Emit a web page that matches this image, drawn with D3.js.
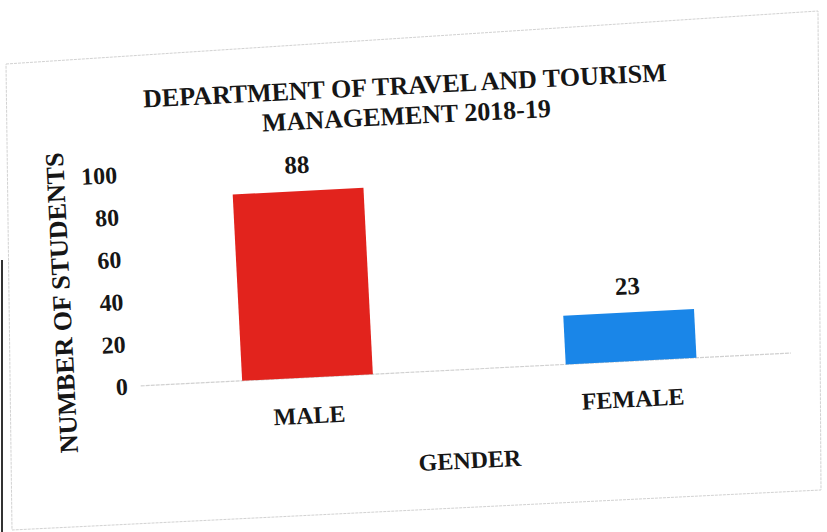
<!DOCTYPE html>
<html>
<head>
<meta charset="utf-8">
<script src="https://cdn.jsdelivr.net/npm/d3@7"></script>
<style>
  html, body { margin: 0; padding: 0; background: #ffffff; }
  svg { display: block; }
  text { font-family: "Liberation Serif", "Times New Roman", serif; font-weight: bold; fill: #161616; }
</style>
</head>
<body>
<svg id="chart" width="827" height="532"></svg>
<script>
const categories = ["MALE", "FEMALE"];
const values = [88, 23];
const barColors = ["#e2231d", "#1a86e8"];
const yTicks = [0, 20, 40, 60, 80, 100];
const titleLines = ["DEPARTMENT OF TRAVEL AND TOURISM", "MANAGEMENT 2018-19"];
const xTitle = "GENDER";
const yTitle = "NUMBER OF STUDENTS";

const W = 827, H = 532;
const svg = d3.select("#chart");

// faint page/frame border of the photographed chart
svg.append("path")
  .attr("d", "M6,64 L818,11 L821,490 L12,530 Z")
  .attr("fill", "none")
  .attr("stroke", "#d2d2d2")
  .attr("stroke-width", 1)
  .attr("stroke-dasharray", "3,1");
svg.append("line")
  .attr("x1", 2).attr("x2", 2).attr("y1", 260).attr("y2", 532)
  .attr("stroke", "#333").attr("stroke-width", 2);

const g = svg.append("g").attr("transform", "rotate(-2.9, 413, 266)");

const x = d3.scaleBand().domain(categories).range([140, 788])
  .paddingInner(0.596).paddingOuter(0.298);
const y = d3.scaleLinear().domain([0, 100]).range([372, 160]);

// baseline
g.append("line")
  .attr("x1", 135).attr("x2", 786)
  .attr("y1", y(0)).attr("y2", y(0))
  .attr("stroke", "#d0d0d0").attr("stroke-width", 1.2)
  .attr("stroke-dasharray", "4,1");

// y axis tick labels
const yAxis = d3.axisLeft(y).tickValues(yTicks).tickSize(0).tickPadding(0);
const ya = g.append("g").attr("transform", "translate(122,0)").call(yAxis);
ya.select(".domain").remove();
ya.selectAll("text")
  .style("font-family", "'Liberation Serif', 'Times New Roman', serif")
  .style("font-weight", "bold")
  .style("font-size", "24px")
  .attr("fill", "#161616");

// bars
g.selectAll("rect.bar").data(categories).join("rect")
  .attr("class", "bar")
  .attr("x", d => x(d))
  .attr("width", x.bandwidth())
  .attr("y", (d, i) => y(values[i]))
  .attr("height", (d, i) => y(0) - y(values[i]))
  .attr("fill", (d, i) => barColors[i]);

// value labels
g.selectAll("text.val").data(categories).join("text")
  .attr("class", "val")
  .attr("x", d => x(d) + x.bandwidth() / 2)
  .attr("y", (d, i) => y(values[i]) - 18)
  .attr("text-anchor", "middle")
  .style("font-size", "25px")
  .text((d, i) => values[i]);

// category labels
const xAxis = d3.axisBottom(x).tickSize(0).tickPadding(0);
const xa = g.append("g").attr("transform", `translate(0,${y(0) + 29})`).call(xAxis);
xa.select(".domain").remove();
xa.selectAll("text")
  .style("font-family", "'Liberation Serif', 'Times New Roman', serif")
  .style("font-weight", "bold")
  .style("font-size", "24px")
  .attr("fill", "#161616");

// axis titles
g.append("text")
  .attr("x", 460).attr("y", 471)
  .attr("text-anchor", "middle")
  .style("font-size", "24px")
  .text(xTitle);

g.append("text")
  .attr("transform", "translate(69,285) rotate(-90)")
  .attr("text-anchor", "middle")
  .style("font-size", "26px")
  .text(yTitle);

// title
g.selectAll("text.title").data(titleLines).join("text")
  .attr("class", "title")
  .attr("x", 414)
  .attr("y", (d, i) => 94 + i * 30)
  .attr("text-anchor", "middle")
  .style("font-size", "26px")
  .text(d => d);
</script>
</body>
</html>
